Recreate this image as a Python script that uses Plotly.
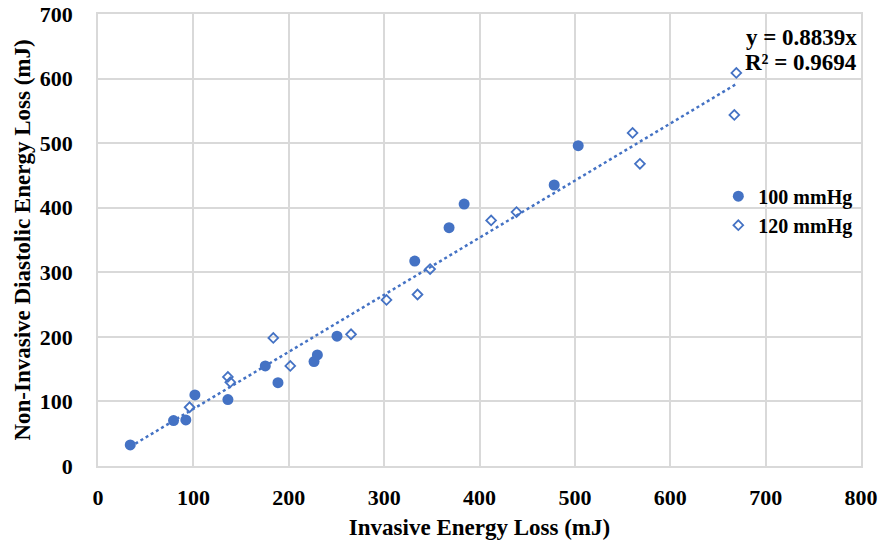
import plotly.graph_objects as go

# Energy loss measurements (mJ)
p100_x = [33.8, 79.2, 92.1, 101.6, 136.2, 175.4, 188.7, 226.5, 230.0, 250.6, 332.1, 368.1, 383.9, 478.3, 503.5]
p100_y = [32.6, 70.3, 71.3, 110.0, 102.8, 155.0, 129.0, 161.7, 172.0, 201.0, 317.3, 369.0, 405.7, 435.2, 496.0]

p120_x = [96.0, 136.2, 138.7, 183.8, 201.6, 265.3, 302.5, 335.0, 348.2, 412.2, 438.8, 560.5, 568.2, 667.2, 669.3]
p120_y = [91.0, 138.0, 129.8, 198.4, 155.0, 204.0, 257.2, 265.6, 305.0, 380.3, 393.3, 515.8, 468.0, 543.7, 608.8]

slope = 0.8839
r_squared = 0.9694

x_ticks = [0, 100, 200, 300, 400, 500, 600, 700, 800]
y_ticks = [0, 100, 200, 300, 400, 500, 600, 700]

BLUE = "#4472C4"
GRID = "#d9d9d9"
FONT = "Liberation Serif"

all_x = p100_x + p120_x
trend_x = [min(all_x), max(all_x)]
trend_y = [slope * v for v in trend_x]

fig = go.Figure()

# linear trendline through the origin
fig.add_trace(go.Scatter(
    x=trend_x, y=trend_y, mode="lines",
    line=dict(color=BLUE, width=2.5, dash="dot"),
    showlegend=False, hoverinfo="skip",
))

fig.add_trace(go.Scatter(
    x=p100_x, y=p100_y, mode="markers", name="100 mmHg",
    marker=dict(symbol="circle", size=11, color=BLUE, line=dict(width=0)),
))

fig.add_trace(go.Scatter(
    x=p120_x, y=p120_y, mode="markers", name="120 mmHg",
    marker=dict(symbol="diamond-open", size=7.5, color=BLUE, line=dict(width=1.8, color=BLUE)),
))

eq_font = dict(family=FONT, size=23, color="black", weight="bold")
fig.add_annotation(
    xref="paper", yref="paper", x=0.998, y=0.947,
    xanchor="right", yanchor="middle",
    text=f"y = {slope}x", showarrow=False, font=eq_font,
)
fig.add_annotation(
    xref="paper", yref="paper", x=0.998, y=0.893,
    xanchor="right", yanchor="middle",
    text=f"R² = {r_squared}", showarrow=False, font=eq_font,
)

axis_common = dict(
    showgrid=True, gridcolor=GRID, gridwidth=1.5,
    showline=True, linecolor=GRID, linewidth=1.5, mirror=True,
    zeroline=False, ticks="", automargin=False,
    tickfont=dict(family=FONT, size=22, color="black", weight="bold"),
)
title_font = dict(family=FONT, size=23, color="black", weight="bold")

fig.update_xaxes(
    range=[0, 800], tickvals=x_ticks, ticktext=[str(v) for v in x_ticks],
    title=dict(text="Invasive Energy Loss (mJ)", standoff=10, font=title_font),
    ticklabelstandoff=11,
    **axis_common,
)
fig.update_yaxes(
    range=[0, 700], tickvals=y_ticks, ticktext=[str(v) for v in y_ticks],
    title=dict(text="Non-Invasive Diastolic Energy Loss (mJ)", standoff=3, font=title_font),
    ticklabelstandoff=19,
    **axis_common,
)

fig.update_layout(
    width=881, height=548,
    margin=dict(l=98, r=20, t=14, b=82),
    paper_bgcolor="white", plot_bgcolor="white",
    legend=dict(
        x=0.813, y=0.64, xanchor="left", yanchor="top",
        bgcolor="rgba(0,0,0,0)",
        font=dict(family=FONT, size=20, color="black", weight="bold"),
        itemwidth=30, tracegroupgap=0,
    ),
)

fig.write_html("out.html")
